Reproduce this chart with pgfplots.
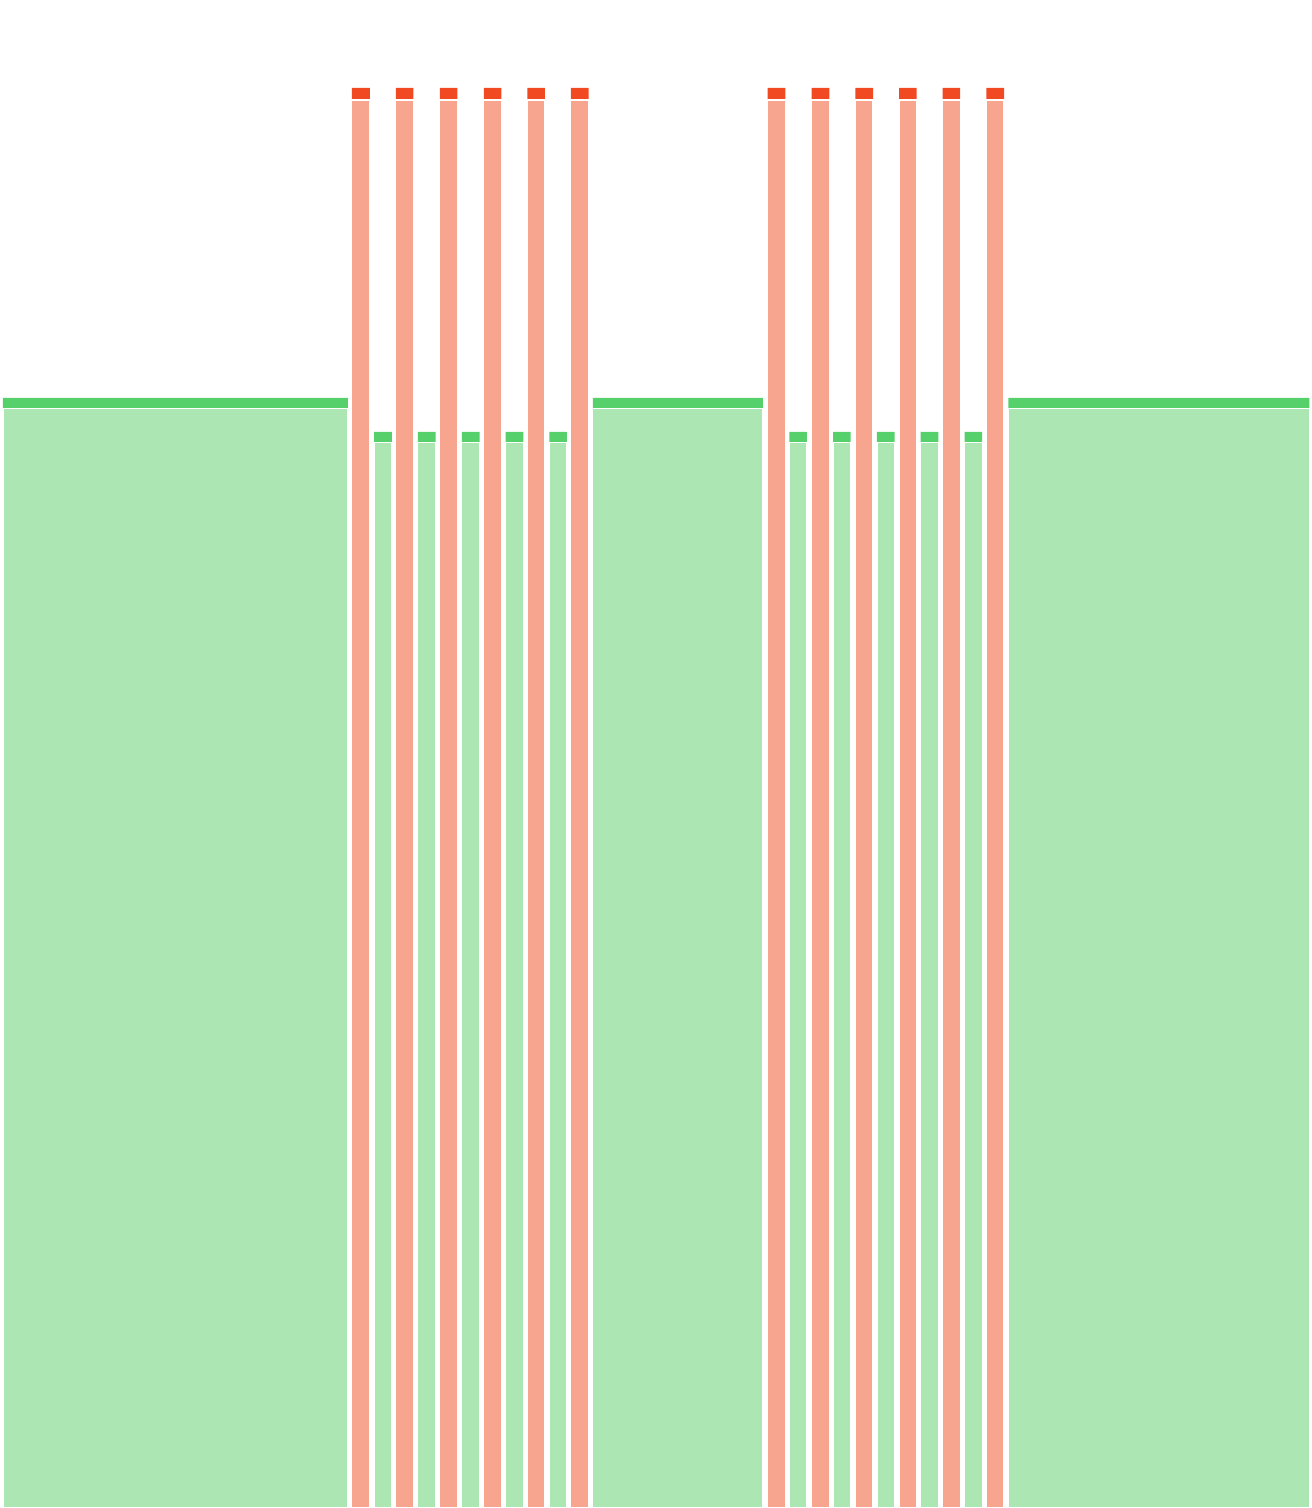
\documentclass[border=0pt]{standalone}
\usepackage{pgfplots}
\pgfplotsset{compat=1.18}
\usepackage{pgfplotstable}
\definecolor{dred}{RGB}{241,74,35}
\definecolor{lred}{RGB}{247,165,143}
\definecolor{dgreen}{RGB}{86,208,106}
\definecolor{lgreen}{RGB}{171,230,179}
\pgfplotstableread{
x y
352 1420
370 0
396 1420
413.6 0
440 1420
457.6 0
484 1420
501.6 0
527.6 1420
545.2 0
571 1420
588.8 0
768 1420
785.6 0
812 1420
829.6 0
855.8 1420
873.4 0
899.4 1420
917 0
943 1420
960.6 0
986.8 1420
1004.4 0
}\redtab
\pgfplotstableread{
x y
3 1110
348 0
374.3 1076
392 0
418 1076
435.7 0
462 1076
479.7 0
505.8 1076
523.5 0
549.5 1076
567.2 0
593 1110
763.3 0
789.7 1076
807.3 0
833.4 1076
851 0
877.3 1076
895 0
921 1076
938.7 0
965 1076
982.6 0
1008.7 1110
1310 0
}\greentab
\begin{document}
\begin{tikzpicture}
\begin{axis}[
  hide axis, scale only axis,
  width=13.12cm, height=15.08cm,
  xmin=0, xmax=1312, ymin=0, ymax=1508,
  clip=false,
]
% caps (full height, dark)
\addplot[ybar interval, fill=dred, draw=none] table[x=x,y=y] {\redtab};
\addplot[ybar interval, fill=dgreen, draw=none] table[x=x,y=y] {\greentab};
% bodies (light), drawn over the caps with a thin white edge
\addplot[ybar interval, fill=lred, draw=white, line width=0.35pt]
  table[x=x,y expr={\thisrow{y}>0 ? \thisrow{y}-12 : 0}] {\redtab};
\addplot[ybar interval, fill=lgreen, draw=white, line width=0.35pt]
  table[x=x,y expr={\thisrow{y}>0 ? \thisrow{y}-11 : 0}] {\greentab};
\end{axis}
\path (current axis.south west) rectangle (current axis.north east);
\end{tikzpicture}
\end{document}
